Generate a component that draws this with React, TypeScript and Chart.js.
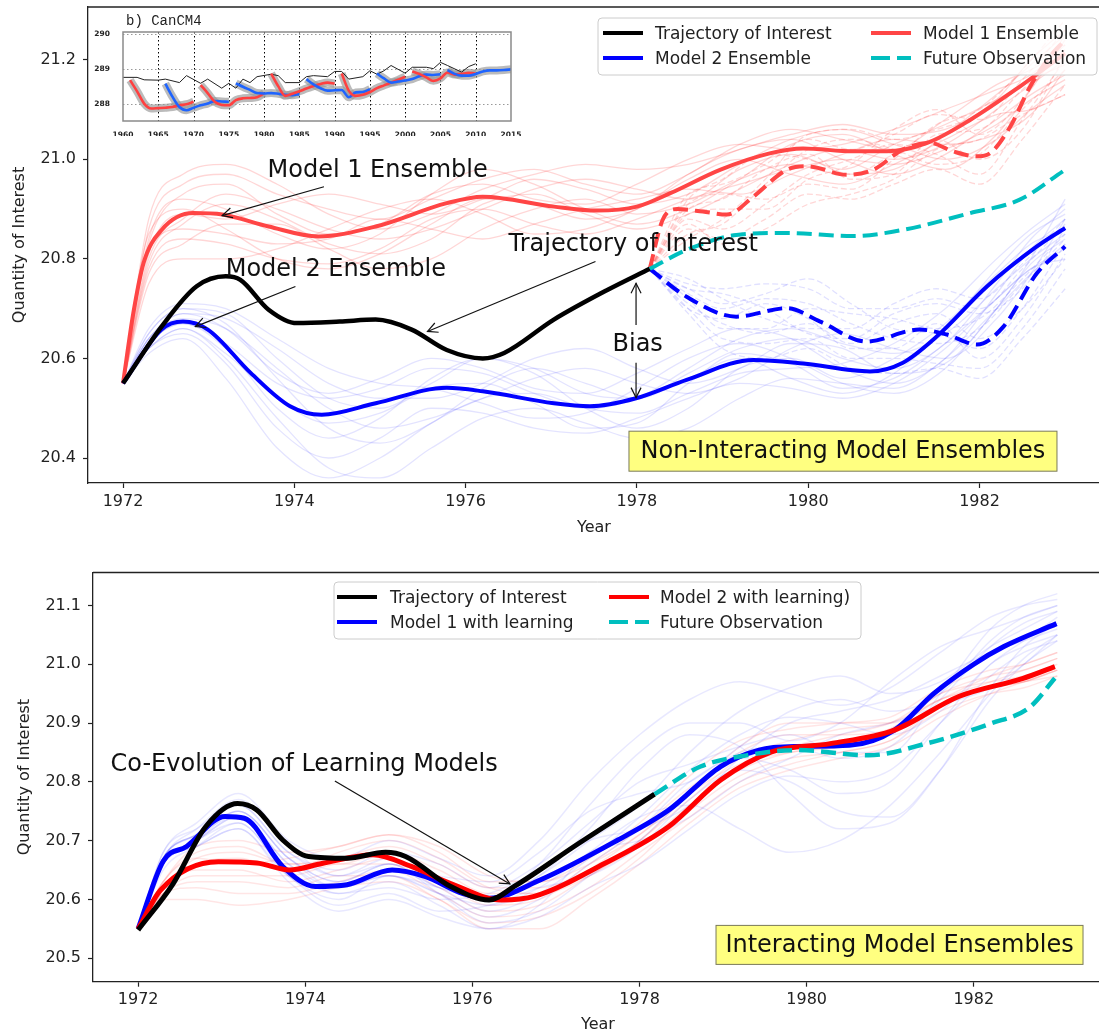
import React, { useEffect, useRef } from 'react';
import { Chart, registerables } from 'chart.js';

Chart.register(...registerables);

const FONT = '"DejaVu Sans", Verdana, sans-serif';
const MONO = '"Liberation Mono", "DejaVu Sans Mono", monospace';

// ---------------- axis ticks ----------------
const YEAR_TICKS = [1972, 1974, 1976, 1978, 1980, 1982];
const TOP_Y_TICKS = [20.4, 20.6, 20.8, 21.0, 21.2];
const BOTTOM_Y_TICKS = [20.5, 20.6, 20.7, 20.8, 20.9, 21.0, 21.1];
const INSET_X_TICKS = [1960, 1965, 1970, 1975, 1980, 1985, 1990, 1995, 2000, 2005, 2010, 2015];
const INSET_Y_TICKS = [288, 289, 290];

// ---------------- ensemble sample years ----------------
const ENS_YEARS = [1972, 1972.3, 1972.7, 1973.2, 1973.8, 1974.4, 1975, 1975.6, 1976.2, 1976.8, 1977.4, 1978, 1978.6, 1979.2, 1979.8, 1980.4, 1981, 1981.6, 1982.2, 1982.6, 1983];
const FUTURE_YEARS = [1978.15, 1978.6, 1979, 1979.5, 1980, 1980.5, 1981, 1981.5, 1982, 1982.5, 1983];

// ---------------- top panel: non-interacting ensembles ----------------
const TOP_RED_ENS = [
  [20.55, 20.86, 20.95, 20.97, 20.93, 20.90, 20.88, 20.92, 20.96, 20.98, 20.95, 20.93, 20.97, 21.03, 21.06, 21.04, 21.02, 21.08, 21.15, 21.18, 21.22],
  [20.55, 20.78, 20.84, 20.83, 20.80, 20.79, 20.82, 20.88, 20.90, 20.87, 20.85, 20.88, 20.92, 20.95, 20.98, 21.00, 20.99, 21.02, 21.07, 21.12, 21.16],
  [20.55, 20.84, 20.92, 20.90, 20.85, 20.82, 20.85, 20.93, 20.98, 20.95, 20.90, 20.87, 20.90, 20.96, 21.03, 21.05, 21.01, 20.98, 21.05, 21.14, 21.24],
  [20.55, 20.80, 20.88, 20.93, 20.90, 20.86, 20.84, 20.86, 20.90, 20.94, 20.96, 20.94, 20.92, 20.98, 21.01, 20.98, 21.03, 21.07, 21.12, 21.16, 21.19],
  [20.55, 20.75, 20.80, 20.80, 20.82, 20.86, 20.90, 20.92, 20.89, 20.85, 20.86, 20.90, 20.96, 21.00, 20.97, 20.95, 20.99, 21.04, 21.09, 21.10, 21.13],
  [20.55, 20.88, 20.97, 20.99, 20.95, 20.89, 20.86, 20.89, 20.94, 20.97, 20.99, 20.98, 20.99, 21.02, 21.05, 21.07, 21.05, 21.06, 21.12, 21.20, 21.26],
  [20.55, 20.82, 20.86, 20.85, 20.83, 20.84, 20.88, 20.86, 20.84, 20.87, 20.90, 20.92, 20.94, 20.93, 20.97, 21.01, 21.04, 21.03, 21.05, 21.09, 21.18],
  [20.55, 20.79, 20.87, 20.91, 20.88, 20.83, 20.81, 20.84, 20.91, 20.93, 20.89, 20.86, 20.89, 20.94, 20.99, 21.02, 21.00, 21.03, 21.10, 21.15, 21.20],
  [20.55, 20.85, 20.90, 20.86, 20.80, 20.78, 20.81, 20.87, 20.92, 20.91, 20.88, 20.90, 20.97, 21.02, 21.04, 21.00, 20.97, 21.01, 21.08, 21.13, 21.17],
  [20.55, 20.83, 20.93, 20.95, 20.89, 20.85, 20.87, 20.93, 20.95, 20.92, 20.91, 20.95, 21.00, 21.03, 21.02, 21.03, 21.06, 21.10, 21.14, 21.17, 21.23],
  [20.55, 20.77, 20.83, 20.87, 20.87, 20.82, 20.78, 20.80, 20.86, 20.90, 20.92, 20.89, 20.91, 20.96, 20.99, 20.97, 20.98, 21.05, 21.13, 21.19, 21.25],
  [20.55, 20.81, 20.89, 20.88, 20.91, 20.93, 20.91, 20.89, 20.92, 20.96, 20.94, 20.91, 20.93, 20.99, 21.04, 21.06, 21.03, 21.00, 21.04, 21.10, 21.15],
];
const TOP_BLUE_ENS = [
  [20.55, 20.65, 20.70, 20.69, 20.60, 20.52, 20.50, 20.55, 20.60, 20.58, 20.53, 20.52, 20.57, 20.62, 20.64, 20.60, 20.58, 20.63, 20.75, 20.84, 20.90],
  [20.55, 20.62, 20.65, 20.59, 20.46, 20.40, 20.44, 20.50, 20.49, 20.46, 20.45, 20.48, 20.52, 20.55, 20.54, 20.52, 20.55, 20.62, 20.72, 20.78, 20.82],
  [20.55, 20.64, 20.68, 20.66, 20.58, 20.50, 20.46, 20.48, 20.52, 20.56, 20.58, 20.55, 20.53, 20.56, 20.62, 20.65, 20.62, 20.60, 20.68, 20.77, 20.88],
  [20.55, 20.63, 20.67, 20.62, 20.50, 20.44, 20.48, 20.56, 20.60, 20.57, 20.50, 20.46, 20.50, 20.58, 20.60, 20.56, 20.60, 20.67, 20.77, 20.83, 20.86],
  [20.55, 20.66, 20.71, 20.70, 20.64, 20.58, 20.55, 20.54, 20.51, 20.48, 20.49, 20.54, 20.60, 20.63, 20.60, 20.55, 20.53, 20.58, 20.70, 20.79, 20.84],
  [20.55, 20.61, 20.64, 20.56, 20.42, 20.36, 20.40, 20.47, 20.52, 20.53, 20.50, 20.49, 20.53, 20.57, 20.58, 20.59, 20.63, 20.70, 20.80, 20.86, 20.91],
  [20.55, 20.64, 20.69, 20.68, 20.62, 20.55, 20.52, 20.52, 20.55, 20.60, 20.62, 20.58, 20.55, 20.58, 20.63, 20.62, 20.57, 20.59, 20.70, 20.80, 20.92],
  [20.55, 20.62, 20.66, 20.61, 20.52, 20.47, 20.49, 20.54, 20.55, 20.51, 20.46, 20.47, 20.55, 20.61, 20.59, 20.54, 20.56, 20.63, 20.72, 20.78, 20.80],
  [20.55, 20.65, 20.70, 20.67, 20.56, 20.46, 20.43, 20.47, 20.54, 20.58, 20.55, 20.52, 20.56, 20.60, 20.56, 20.53, 20.57, 20.66, 20.78, 20.85, 20.89],
  [20.55, 20.63, 20.67, 20.63, 20.55, 20.52, 20.54, 20.58, 20.57, 20.53, 20.50, 20.52, 20.58, 20.64, 20.66, 20.63, 20.61, 20.65, 20.74, 20.80, 20.85],
  [20.55, 20.62, 20.66, 20.60, 20.48, 20.38, 20.36, 20.42, 20.48, 20.50, 20.47, 20.44, 20.46, 20.52, 20.56, 20.55, 20.54, 20.60, 20.70, 20.77, 20.83],
  [20.55, 20.64, 20.69, 20.66, 20.57, 20.53, 20.56, 20.60, 20.58, 20.54, 20.53, 20.57, 20.62, 20.66, 20.64, 20.58, 20.55, 20.60, 20.73, 20.82, 20.88],
];
const TOP_RED_FUTURE_ENS = [
  [20.78, 20.93, 20.95, 20.99, 21.04, 21.02, 21.05, 21.09, 21.08, 21.16, 21.26],
  [20.78, 20.86, 20.84, 20.88, 20.93, 20.92, 20.95, 20.98, 20.95, 21.04, 21.15],
  [20.78, 20.90, 20.92, 20.98, 21.01, 20.96, 20.97, 21.05, 21.06, 21.14, 21.22],
  [20.78, 20.88, 20.86, 20.91, 20.97, 21.00, 21.03, 21.01, 20.97, 21.08, 21.20],
  [20.78, 20.91, 20.93, 20.92, 20.95, 20.94, 21.00, 21.07, 21.10, 21.18, 21.28],
  [20.78, 20.85, 20.87, 20.95, 21.02, 21.04, 21.02, 20.99, 21.01, 21.10, 21.18],
  [20.78, 20.89, 20.90, 20.90, 20.96, 20.99, 21.06, 21.10, 21.05, 21.12, 21.25],
  [20.78, 20.87, 20.83, 20.86, 20.91, 20.93, 20.96, 21.02, 21.04, 21.09, 21.13],
  [20.78, 20.92, 20.96, 21.01, 21.00, 20.97, 21.01, 21.04, 21.00, 21.06, 21.21],
  [20.78, 20.84, 20.88, 20.96, 21.05, 21.06, 21.04, 21.06, 21.09, 21.15, 21.23],
];
const TOP_BLUE_FUTURE_ENS = [
  [20.78, 20.75, 20.74, 20.75, 20.74, 20.70, 20.70, 20.72, 20.70, 20.78, 20.87],
  [20.78, 20.70, 20.64, 20.63, 20.64, 20.60, 20.60, 20.59, 20.58, 20.66, 20.78],
  [20.78, 20.73, 20.70, 20.72, 20.71, 20.67, 20.64, 20.63, 20.66, 20.75, 20.84],
  [20.78, 20.71, 20.67, 20.65, 20.67, 20.63, 20.67, 20.69, 20.64, 20.70, 20.80],
  [20.78, 20.76, 20.72, 20.68, 20.66, 20.66, 20.71, 20.74, 20.72, 20.79, 20.88],
  [20.78, 20.69, 20.62, 20.60, 20.62, 20.58, 20.57, 20.58, 20.56, 20.64, 20.74],
  [20.78, 20.74, 20.71, 20.73, 20.76, 20.71, 20.66, 20.65, 20.62, 20.70, 20.83],
  [20.78, 20.72, 20.66, 20.66, 20.70, 20.69, 20.68, 20.66, 20.68, 20.76, 20.85],
  [20.78, 20.70, 20.68, 20.71, 20.68, 20.62, 20.62, 20.67, 20.60, 20.68, 20.81],
  [20.78, 20.74, 20.73, 20.70, 20.65, 20.64, 20.69, 20.71, 20.69, 20.74, 20.86],
];

const TOP_TRAJ_YEARS = [1972, 1972.45, 1972.86, 1973.2, 1973.37, 1973.7, 1974.03, 1974.53, 1974.95, 1975.37, 1975.78, 1976.2, 1976.45, 1977.03, 1977.66, 1978.15];
const TOP_TRAJ = [20.55, 20.664, 20.745, 20.765, 20.758, 20.698, 20.671, 20.674, 20.678, 20.658, 20.617, 20.6, 20.611, 20.678, 20.738, 20.78];

const TOP_M1_YEARS = [1972, 1972.12, 1972.24, 1972.45, 1972.82, 1973.16, 1973.7, 1974.28, 1974.95, 1975.78, 1976.2, 1977.03, 1977.53, 1978.0, 1978.39, 1978.97, 1979.55, 1979.94, 1980.52, 1980.92, 1981.39, 1981.89, 1982.47, 1983.0];
const TOP_M1 = [20.55, 20.691, 20.792, 20.858, 20.892, 20.889, 20.865, 20.845, 20.865, 20.912, 20.925, 20.905, 20.897, 20.905, 20.932, 20.979, 21.012, 21.022, 21.016, 21.016, 21.033, 21.079, 21.146, 21.213];

const TOP_M1_FUT_YEARS = [1978.15, 1978.3, 1978.47, 1978.77, 1979.05, 1979.36, 1979.75, 1979.99, 1980.45, 1980.76, 1981.1, 1981.42, 1981.69, 1981.97, 1982.12, 1982.36, 1982.59, 1982.82, 1983.0];
const TOP_M1_FUT = [20.78, 20.878, 20.9, 20.895, 20.889, 20.925, 20.979, 20.986, 20.969, 20.979, 21.019, 21.033, 21.016, 21.006, 21.012, 21.066, 21.146, 21.206, 21.24];

const TOP_M2_YEARS = [1972, 1972.45, 1972.7, 1972.99, 1973.49, 1973.95, 1974.32, 1974.95, 1975.78, 1976.2, 1977.03, 1977.45, 1977.99, 1978.58, 1979.36, 1979.94, 1980.72, 1981.1, 1981.5, 1982.09, 1982.67, 1983.0];
const TOP_M2 = [20.55, 20.658, 20.674, 20.658, 20.571, 20.504, 20.487, 20.51, 20.541, 20.534, 20.51, 20.504, 20.52, 20.557, 20.597, 20.59, 20.574, 20.591, 20.644, 20.745, 20.825, 20.862];

const TOP_M2_FUT_YEARS = [1978.15, 1978.58, 1979.16, 1979.75, 1980.14, 1980.68, 1981.3, 1981.62, 1981.97, 1982.28, 1982.67, 1983.0];
const TOP_M2_FUT = [20.78, 20.724, 20.684, 20.701, 20.674, 20.634, 20.658, 20.648, 20.628, 20.664, 20.771, 20.825];

const TOP_OBS_YEARS = [1978.15, 1978.58, 1979.16, 1979.75, 1980.52, 1981.1, 1981.89, 1982.47, 1983.0];
const TOP_OBS = [20.78, 20.818, 20.848, 20.852, 20.846, 20.858, 20.892, 20.919, 20.979];

// ---------------- bottom panel: interacting ensembles ----------------
const BOT_BLUE_ENS = [
  [20.55, 20.68, 20.73, 20.78, 20.70, 20.67, 20.70, 20.67, 20.64, 20.70, 20.80, 20.88, 20.94, 20.97, 20.95, 20.93, 20.96, 21.02, 21.08, 21.10, 21.11],
  [20.55, 20.66, 20.69, 20.72, 20.63, 20.58, 20.60, 20.57, 20.55, 20.57, 20.62, 20.66, 20.72, 20.78, 20.81, 20.80, 20.82, 20.90, 20.98, 21.02, 21.04],
  [20.55, 20.67, 20.71, 20.75, 20.67, 20.63, 20.66, 20.64, 20.63, 20.68, 20.75, 20.78, 20.80, 20.86, 20.92, 20.94, 20.92, 20.95, 21.04, 21.08, 21.10],
  [20.55, 20.65, 20.69, 20.73, 20.64, 20.60, 20.64, 20.61, 20.57, 20.60, 20.66, 20.72, 20.80, 20.84, 20.82, 20.78, 20.80, 20.90, 21.00, 21.03, 21.05],
  [20.55, 20.67, 20.72, 20.77, 20.69, 20.64, 20.67, 20.63, 20.60, 20.64, 20.70, 20.76, 20.85, 20.92, 20.96, 20.98, 20.95, 20.97, 21.03, 21.06, 21.09],
  [20.55, 20.66, 20.70, 20.74, 20.65, 20.61, 20.63, 20.59, 20.55, 20.59, 20.68, 20.70, 20.74, 20.80, 20.84, 20.88, 20.90, 20.93, 20.96, 21.00, 21.05],
  [20.55, 20.68, 20.72, 20.76, 20.68, 20.65, 20.68, 20.66, 20.62, 20.66, 20.73, 20.80, 20.83, 20.86, 20.88, 20.85, 20.85, 20.95, 21.06, 21.10, 21.12],
  [20.55, 20.66, 20.70, 20.73, 20.64, 20.59, 20.61, 20.58, 20.59, 20.62, 20.64, 20.69, 20.77, 20.82, 20.80, 20.75, 20.74, 20.82, 20.94, 21.00, 21.04],
  [20.55, 20.67, 20.71, 20.76, 20.68, 20.64, 20.66, 20.62, 20.60, 20.66, 20.76, 20.85, 20.90, 20.90, 20.87, 20.90, 20.97, 21.03, 21.06, 21.08, 21.10],
  [20.55, 20.66, 20.69, 20.72, 20.64, 20.62, 20.65, 20.62, 20.58, 20.61, 20.67, 20.74, 20.82, 20.88, 20.91, 20.90, 20.88, 20.92, 21.00, 21.04, 21.08],
  [20.55, 20.67, 20.71, 20.74, 20.66, 20.61, 20.62, 20.60, 20.61, 20.65, 20.70, 20.72, 20.76, 20.84, 20.90, 20.92, 20.94, 20.98, 21.02, 21.04, 21.06],
  [20.55, 20.66, 20.70, 20.75, 20.67, 20.63, 20.66, 20.61, 20.56, 20.58, 20.64, 20.70, 20.78, 20.85, 20.86, 20.84, 20.86, 20.94, 21.03, 21.07, 21.09],
  [20.55, 20.66, 20.70, 20.74, 20.66, 20.62, 20.64, 20.61, 20.59, 20.62, 20.68, 20.74, 20.76, 20.72, 20.68, 20.70, 20.76, 20.85, 20.95, 21.01, 21.05],
  [20.55, 20.67, 20.71, 20.75, 20.67, 20.62, 20.64, 20.62, 20.60, 20.64, 20.72, 20.82, 20.88, 20.86, 20.78, 20.72, 20.73, 20.82, 20.96, 21.03, 21.07],
];
const BOT_RED_ENS = [
  [20.55, 20.63, 20.69, 20.70, 20.68, 20.69, 20.71, 20.68, 20.63, 20.63, 20.67, 20.73, 20.81, 20.87, 20.89, 20.90, 20.91, 20.96, 20.99, 21.00, 21.02],
  [20.55, 20.61, 20.63, 20.63, 20.62, 20.64, 20.64, 20.60, 20.56, 20.57, 20.61, 20.67, 20.75, 20.81, 20.84, 20.85, 20.87, 20.92, 20.95, 20.96, 20.98],
  [20.55, 20.62, 20.67, 20.68, 20.66, 20.67, 20.69, 20.66, 20.62, 20.62, 20.65, 20.70, 20.78, 20.85, 20.88, 20.88, 20.89, 20.95, 20.98, 20.99, 21.01],
  [20.55, 20.61, 20.64, 20.64, 20.64, 20.66, 20.66, 20.62, 20.58, 20.59, 20.64, 20.69, 20.76, 20.82, 20.85, 20.86, 20.88, 20.93, 20.96, 20.97, 20.99],
  [20.55, 20.63, 20.68, 20.69, 20.66, 20.66, 20.68, 20.65, 20.61, 20.61, 20.66, 20.72, 20.79, 20.84, 20.86, 20.88, 20.90, 20.95, 20.97, 20.98, 21.00],
  [20.55, 20.61, 20.62, 20.61, 20.61, 20.63, 20.65, 20.61, 20.57, 20.58, 20.62, 20.68, 20.74, 20.80, 20.83, 20.85, 20.87, 20.93, 20.96, 20.97, 20.98],
  [20.55, 20.62, 20.66, 20.67, 20.65, 20.68, 20.70, 20.67, 20.62, 20.61, 20.64, 20.70, 20.77, 20.84, 20.87, 20.89, 20.90, 20.94, 20.97, 20.99, 21.01],
  [20.55, 20.62, 20.65, 20.65, 20.63, 20.65, 20.67, 20.63, 20.59, 20.60, 20.65, 20.71, 20.78, 20.83, 20.85, 20.86, 20.89, 20.94, 20.96, 20.97, 20.99],
  [20.55, 20.60, 20.60, 20.59, 20.60, 20.62, 20.63, 20.60, 20.55, 20.55, 20.60, 20.66, 20.73, 20.79, 20.82, 20.84, 20.86, 20.91, 20.95, 20.97, 20.99],
  [20.55, 20.63, 20.67, 20.66, 20.67, 20.69, 20.71, 20.69, 20.64, 20.63, 20.66, 20.71, 20.78, 20.86, 20.90, 20.90, 20.90, 20.94, 20.98, 21.00, 21.02],
];

const BOT_TRAJ_YEARS = [1972, 1972.42, 1972.81, 1973.19, 1973.42, 1973.73, 1974.04, 1974.5, 1974.96, 1975.2, 1975.74, 1976.2, 1976.5, 1977.27, 1978.18];
const BOT_TRAJ = [20.548, 20.627, 20.724, 20.763, 20.752, 20.701, 20.673, 20.67, 20.68, 20.673, 20.622, 20.599, 20.622, 20.695, 20.779];

const BOT_M1_YEARS = [1972, 1972.3, 1972.58, 1973.04, 1973.27, 1973.73, 1974.12, 1974.5, 1975.04, 1975.43, 1975.89, 1976.2, 1976.81, 1977.74, 1978.35, 1978.97, 1979.43, 1979.89, 1980.51, 1981.05, 1981.52, 1982.0, 1982.36, 1982.99];
const BOT_M1 = [20.55, 20.665, 20.69, 20.741, 20.738, 20.656, 20.622, 20.625, 20.65, 20.639, 20.61, 20.602, 20.633, 20.701, 20.752, 20.826, 20.854, 20.86, 20.862, 20.888, 20.95, 21.0, 21.03, 21.069];

const BOT_M2_YEARS = [1972, 1972.27, 1972.96, 1973.42, 1973.81, 1974.2, 1974.81, 1975.27, 1975.74, 1976.35, 1976.74, 1977.58, 1978.35, 1978.97, 1979.58, 1980.28, 1981.05, 1981.82, 1982.59, 1982.97];
const BOT_M2 = [20.55, 20.616, 20.664, 20.662, 20.65, 20.661, 20.676, 20.656, 20.627, 20.599, 20.605, 20.661, 20.724, 20.803, 20.851, 20.865, 20.888, 20.945, 20.976, 20.996];

const BOT_OBS_YEARS = [1978.18, 1978.73, 1979.28, 1979.89, 1980.74, 1981.43, 1982.2, 1982.67, 1982.97];
const BOT_OBS = [20.779, 20.826, 20.845, 20.854, 20.845, 20.865, 20.899, 20.927, 20.976];

// ---------------- inset: CanCM4 hindcasts ----------------
const INSET_OBS_YEARS = [1960, 1962, 1963, 1965, 1966, 1968, 1969, 1971, 1972, 1974, 1975, 1976, 1977, 1978, 1979, 1981, 1982, 1983, 1985, 1986, 1987, 1989, 1990, 1991, 1992, 1994, 1995, 1996, 1997, 1998, 2000, 2001, 2003, 2004, 2005, 2006, 2008, 2009, 2010];
const INSET_OBS = [288.75, 288.75, 288.68, 288.67, 288.7, 288.6, 288.8, 288.58, 288.7, 288.44, 288.58, 288.44, 288.7, 288.6, 288.77, 288.84, 288.8, 288.6, 288.6, 288.77, 288.8, 288.77, 288.92, 288.92, 288.7, 288.77, 288.94, 288.84, 288.94, 289.09, 288.87, 289.04, 289.04, 289.0, 289.18, 289.09, 288.9, 289.06, 289.14];
const INSET_RUN_STARTS = [1961, 1966, 1971, 1976, 1981, 1986, 1991, 1996, 2001, 2006];
const INSET_RUNS = [
  [288.67, 288.35, 288.0, 287.86, 287.87, 287.88, 287.9, 287.95, 287.98, 288.05],
  [288.57, 288.2, 287.9, 287.81, 287.88, 287.95, 288.0, 288.07, 288.06, 288.05],
  [288.53, 288.3, 288.05, 287.96, 287.95, 288.1, 288.15, 288.16, 288.18, 288.3],
  [288.58, 288.48, 288.39, 288.3, 288.29, 288.3, 288.28, 288.25, 288.24, 288.27],
  [288.86, 288.5, 288.22, 288.28, 288.35, 288.43, 288.5, 288.56, 288.6, 288.57],
  [288.7, 288.55, 288.44, 288.37, 288.38, 288.39, 288.18, 288.32, 288.33, 288.41],
  [288.86, 288.37, 288.22, 288.25, 288.33, 288.44, 288.52, 288.6, 288.68, 288.77],
  [288.86, 288.72, 288.6, 288.63, 288.66, 288.7, 288.78, 288.83, 288.82, 288.84],
  [288.92, 288.85, 288.75, 288.65, 288.72, 288.89, 288.83, 288.85, 288.88, 288.86],
  [288.96, 288.85, 288.8, 288.8, 288.85, 288.92, 288.95, 288.95, 288.96, 288.98],
];

// ---------------- colours ----------------
const C_RED_TOP = '#ff4545';
const C_RED = '#ff0000';
const C_BLUE = '#0000ff';
const C_BLACK = '#000000';
const C_CYAN = '#00bfbf';
const DASH = [15, 7];

// ---------------- helpers ----------------
function line(xs: number[], ys: number[], color: string, width: number, dash: number[] = [], smooth = true) {
  return {
    data: xs.map((x, i) => ({ x, y: ys[i] })),
    borderColor: color,
    backgroundColor: color,
    borderWidth: width,
    borderDash: dash,
    borderCapStyle: 'butt',
    borderJoinStyle: 'round',
    pointRadius: 0,
    pointHoverRadius: 0,
    fill: false,
    tension: smooth ? 0.4 : 0,
    cubicInterpolationMode: smooth ? 'monotone' : 'default',
  };
}

function zeroPad(s: any) {
  s.paddingLeft = 0;
  s.paddingRight = 0;
  s.paddingTop = 0;
  s.paddingBottom = 0;
}

function drawArrow(ctx: CanvasRenderingContext2D, x1: number, y1: number, x2: number, y2: number) {
  const head = 10, half = 5;
  ctx.beginPath();
  ctx.moveTo(x1, y1);
  ctx.lineTo(x2, y2);
  ctx.stroke();
  const a = Math.atan2(y2 - y1, x2 - x1);
  const ux = Math.cos(a), uy = Math.sin(a);
  ctx.beginPath();
  ctx.moveTo(x2 - ux * head - uy * half, y2 - uy * head + ux * half);
  ctx.lineTo(x2, y2);
  ctx.lineTo(x2 - ux * head + uy * half, y2 - uy * head - ux * half);
  ctx.stroke();
}

function decorPlugin(cfg: any) {
  return {
    id: 'decor',
    afterDatasetsDraw(chart: any) {
      const { ctx, chartArea: a, scales } = chart;
      const X = (v: number) => scales.x.getPixelForValue(v);
      const Y = (v: number) => scales.y.getPixelForValue(v);
      ctx.save();
      // top spine
      ctx.strokeStyle = '#222';
      ctx.lineWidth = 1.3;
      ctx.setLineDash([]);
      ctx.beginPath();
      ctx.moveTo(a.left, a.top);
      ctx.lineTo(a.right, a.top);
      ctx.stroke();

      // annotations
      ctx.fillStyle = '#111';
      ctx.font = `24px ${FONT}`;
      ctx.textBaseline = 'alphabetic';
      ctx.textAlign = 'left';
      ctx.lineWidth = 1.2;
      ctx.strokeStyle = '#111';
      for (const n of cfg.notes) {
        ctx.fillText(n.text, X(n.x), Y(n.y));
        for (const ar of n.arrows) drawArrow(ctx, X(ar[0]), Y(ar[1]), X(ar[2]), Y(ar[3]));
      }

      // yellow boxes
      for (const b of cfg.boxes) {
        const cx = X(b.x), cy = Y(b.y);
        ctx.fillStyle = '#ffff80';
        ctx.strokeStyle = '#7a7a5a';
        ctx.lineWidth = 1;
        ctx.fillRect(cx - b.w / 2, cy - b.h / 2, b.w, b.h);
        ctx.strokeRect(cx - b.w / 2, cy - b.h / 2, b.w, b.h);
        ctx.fillStyle = '#111';
        ctx.font = `24px ${FONT}`;
        ctx.textAlign = 'center';
        ctx.textBaseline = 'middle';
        ctx.fillText(b.text, cx, cy + 1);
      }

      // legend
      const L = cfg.legend;
      const [bx0, by0, bx1, by1] = L.box;
      ctx.fillStyle = 'rgba(255,255,255,0.8)';
      ctx.strokeStyle = '#cccccc';
      ctx.lineWidth = 1;
      ctx.beginPath();
      const r = 4;
      ctx.moveTo(bx0 + r, by0);
      ctx.lineTo(bx1 - r, by0);
      ctx.quadraticCurveTo(bx1, by0, bx1, by0 + r);
      ctx.lineTo(bx1, by1 - r);
      ctx.quadraticCurveTo(bx1, by1, bx1 - r, by1);
      ctx.lineTo(bx0 + r, by1);
      ctx.quadraticCurveTo(bx0, by1, bx0, by1 - r);
      ctx.lineTo(bx0, by0 + r);
      ctx.quadraticCurveTo(bx0, by0, bx0 + r, by0);
      ctx.closePath();
      ctx.fill();
      ctx.stroke();
      ctx.textAlign = 'left';
      ctx.textBaseline = 'alphabetic';
      ctx.font = `17px ${FONT}`;
      for (const e of L.entries) {
        ctx.strokeStyle = e.color;
        ctx.lineWidth = 4;
        ctx.setLineDash(e.dash || []);
        ctx.lineCap = 'butt';
        ctx.beginPath();
        ctx.moveTo(e.sx, e.sy);
        ctx.lineTo(e.sx + e.len, e.sy);
        ctx.stroke();
        ctx.setLineDash([]);
        ctx.fillStyle = '#222';
        ctx.fillText(e.label, e.tx, e.ty);
      }
      ctx.restore();
    },
  };
}

function mainScales(o: any) {
  const tickFont = { family: FONT, size: 16 };
  return {
    x: {
      type: 'linear',
      min: o.xMin,
      max: o.xMax,
      afterBuildTicks: (s: any) => { s.ticks = YEAR_TICKS.map((v) => ({ value: v })); },
      afterFit: (s: any) => { s.height = o.xHeight; zeroPad(s); },
      ticks: { callback: (v: number) => String(v), font: tickFont, color: '#222', padding: 4, maxRotation: 0, autoSkip: false },
      grid: { display: true, drawOnChartArea: false, drawTicks: true, tickLength: 5, tickColor: '#222', tickWidth: 1.2 },
      border: { display: true, color: '#222', width: 1.3 },
      title: { display: true, text: 'Year', font: tickFont, color: '#222', padding: { top: 0, bottom: o.xTitlePad } },
    },
    y: {
      type: 'linear',
      min: o.yMin,
      max: o.yMax,
      afterBuildTicks: (s: any) => { s.ticks = o.yTicks.map((v: number) => ({ value: v })); },
      afterFit: (s: any) => { s.width = o.yWidth; zeroPad(s); },
      ticks: { callback: (v: number) => v.toFixed(1), font: tickFont, color: '#222', padding: 7, autoSkip: false },
      grid: { display: true, drawOnChartArea: false, drawTicks: true, tickLength: 5, tickColor: '#222', tickWidth: 1.2 },
      border: { display: true, color: '#222', width: 1.3 },
      title: { display: true, text: 'Quantity of Interest', font: tickFont, color: '#222', padding: { top: o.yTitlePad, bottom: 0 } },
    },
  };
}

function buildTop(canvas: HTMLCanvasElement) {
  const layers: any[] = [
    ...TOP_RED_ENS.map((ys) => line(ENS_YEARS, ys, 'rgba(255,0,0,0.16)', 1.3)),
    ...TOP_RED_FUTURE_ENS.map((ys) => line(FUTURE_YEARS, ys, 'rgba(255,0,0,0.16)', 1.3, [6, 3])),
    ...TOP_BLUE_ENS.map((ys) => line(ENS_YEARS, ys, 'rgba(0,0,255,0.11)', 1.3)),
    ...TOP_BLUE_FUTURE_ENS.map((ys) => line(FUTURE_YEARS, ys, 'rgba(0,0,255,0.12)', 1.3, [6, 3])),
    line(TOP_M1_YEARS, TOP_M1, C_RED_TOP, 4),
    line(TOP_M1_FUT_YEARS, TOP_M1_FUT, C_RED_TOP, 4, DASH),
    line(TOP_M2_YEARS, TOP_M2, C_BLUE, 4),
    line(TOP_M2_FUT_YEARS, TOP_M2_FUT, C_BLUE, 4, DASH),
    line(TOP_TRAJ_YEARS, TOP_TRAJ, C_BLACK, 4.5),
    line(TOP_OBS_YEARS, TOP_OBS, C_CYAN, 4, DASH),
  ];
  const cfg = {
    notes: [
      { text: 'Model 1 Ensemble', x: 1973.687, y: 20.964, arrows: [[1974.346, 20.945, 1973.157, 20.887]] },
      { text: 'Model 2 Ensemble', x: 1973.199, y: 20.766, arrows: [[1974.013, 20.7446, 1972.845, 20.664]] },
      { text: 'Trajectory of Interest', x: 1976.502, y: 20.8157, arrows: [[1977.516, 20.7948, 1975.555, 20.6542]] },
      { text: 'Bias', x: 1977.715, y: 20.614, arrows: [[1977.99, 20.667, 1977.99, 20.751], [1977.99, 20.5916, 1977.99, 20.5213]] },
    ],
    boxes: [{ text: 'Non-Interacting Model Ensembles', x: 1980.406, y: 20.4137, w: 428, h: 40 }],
    legend: {
      box: [598, 18, 1097, 75],
      entries: [
        { label: 'Trajectory of Interest', color: C_BLACK, sx: 603, sy: 33, len: 40, tx: 655, ty: 38.5 },
        { label: 'Model 1 Ensemble', color: C_RED_TOP, sx: 871, sy: 33, len: 40, tx: 923, ty: 38.5 },
        { label: 'Model 2 Ensemble', color: C_BLUE, sx: 603, sy: 58, len: 40, tx: 655, ty: 63.5 },
        { label: 'Future Observation', color: C_CYAN, dash: [19, 7], sx: 871, sy: 58, len: 40, tx: 923, ty: 63.5 },
      ],
    },
  };
  return new Chart(canvas, {
    type: 'line',
    data: { datasets: layers.reverse() },
    options: {
      responsive: false,
      animation: false,
      events: [],
      layout: { padding: { top: 7, right: 10, left: 0, bottom: 0 } },
      plugins: { legend: { display: false }, tooltip: { enabled: false } },
      scales: mainScales({
        xMin: 1971.591, xMax: 1983.407, yMin: 20.3498, yMax: 21.306, yTicks: TOP_Y_TICKS,
        xHeight: 62, yWidth: 88, xTitlePad: 8, yTitlePad: 10,
      }),
    } as any,
    plugins: [decorPlugin(cfg)],
  } as any);
}

function buildBottom(canvas: HTMLCanvasElement) {
  const layers: any[] = [
    ...BOT_RED_ENS.map((ys) => line(ENS_YEARS, ys, 'rgba(255,0,0,0.1)', 1.5)),
    ...BOT_BLUE_ENS.map((ys) => line(ENS_YEARS, ys, 'rgba(0,0,255,0.09)', 1.5)),
    line(BOT_M1_YEARS, BOT_M1, C_BLUE, 5),
    line(BOT_M2_YEARS, BOT_M2, C_RED, 5),
    line(BOT_TRAJ_YEARS, BOT_TRAJ, C_BLACK, 5),
    line(BOT_OBS_YEARS, BOT_OBS, C_CYAN, 4.5, DASH),
  ];
  const cfg = {
    notes: [
      { text: 'Co-Evolution of Learning Models', x: 1971.67, y: 20.8183, arrows: [[1974.354, 20.8013, 1976.449, 20.6263]] },
    ],
    boxes: [{ text: 'Interacting Model Ensembles', x: 1981.111, y: 20.5226, w: 367, h: 39 }],
    legend: {
      box: [334, 37, 861, 94],
      entries: [
        { label: 'Trajectory of Interest', color: C_BLACK, sx: 337, sy: 52, len: 40, tx: 390, ty: 57.5 },
        { label: 'Model 2 with learning)', color: C_RED, sx: 609, sy: 52, len: 40, tx: 660, ty: 57.5 },
        { label: 'Model 1 with learning', color: C_BLUE, sx: 337, sy: 77, len: 40, tx: 390, ty: 82.5 },
        { label: 'Future Observation', color: C_CYAN, dash: [19, 7], sx: 609, sy: 77, len: 40, tx: 660, ty: 82.5 },
      ],
    },
  };
  return new Chart(canvas, {
    type: 'line',
    data: { datasets: layers.reverse() },
    options: {
      responsive: false,
      animation: false,
      events: [],
      layout: { padding: { top: 27.5, right: 7, left: 0, bottom: 0 } },
      plugins: { legend: { display: false }, tooltip: { enabled: false } },
      scales: mainScales({
        xMin: 1971.46, xMax: 1983.546, yMin: 20.46, yMax: 21.156, yTicks: BOTTOM_Y_TICKS,
        xHeight: 63.3, yWidth: 93, xTitlePad: 10.4, yTitlePad: 15,
      }),
    } as any,
    plugins: [decorPlugin(cfg)],
  } as any);
}

function buildInset(canvas: HTMLCanvasElement) {
  const bands: any[] = [];
  const runs: any[] = [];
  INSET_RUNS.forEach((vals, i) => {
    const xs = vals.map((_, k) => INSET_RUN_STARTS[i] + k);
    bands.push(line(xs, vals, 'rgba(150,150,150,0.65)', 8, [], true));
    runs.push(line(xs, vals, i % 2 === 0 ? '#ff4040' : '#1e64ff', 2.6, [], true));
  });
  const layers = [...bands, line(INSET_OBS_YEARS, INSET_OBS, '#222', 1, [], false), ...runs];
  const tickFont = { family: FONT, size: 7.5, weight: 'bold' };
  const plugin = {
    id: 'insetDecor',
    beforeDraw(chart: any) {
      const { ctx, width, height } = chart;
      ctx.save();
      ctx.fillStyle = '#ffffff';
      ctx.fillRect(0, 0, width, height);
      ctx.restore();
    },
    beforeDatasetsDraw(chart: any) {
      const { ctx, chartArea: a, scales } = chart;
      ctx.save();
      ctx.lineWidth = 1;
      ctx.setLineDash([1.5, 2.5]);
      ctx.strokeStyle = '#000';
      for (const v of INSET_X_TICKS.slice(1, -1)) {
        const x = Math.round(scales.x.getPixelForValue(v)) + 0.5;
        ctx.beginPath(); ctx.moveTo(x, a.top); ctx.lineTo(x, a.bottom); ctx.stroke();
      }
      ctx.strokeStyle = '#999';
      for (const v of INSET_Y_TICKS) {
        const y = Math.round(scales.y.getPixelForValue(v)) + 0.5;
        ctx.beginPath(); ctx.moveTo(a.left, y); ctx.lineTo(a.right, y); ctx.stroke();
      }
      ctx.restore();
    },
    afterDatasetsDraw(chart: any) {
      const { ctx, chartArea: a } = chart;
      ctx.save();
      ctx.strokeStyle = '#8a8a8a';
      ctx.lineWidth = 1.5;
      ctx.strokeRect(a.left, a.top, a.right - a.left, a.bottom - a.top);
      ctx.fillStyle = '#222';
      ctx.font = `14px ${MONO}`;
      ctx.textAlign = 'left';
      ctx.textBaseline = 'alphabetic';
      ctx.fillText('b) CanCM4', 36, 16);
      ctx.restore();
    },
  };
  return new Chart(canvas, {
    type: 'line',
    data: { datasets: layers.reverse() },
    options: {
      responsive: false,
      animation: false,
      events: [],
      layout: { padding: { top: 23, right: 17, left: 0, bottom: 0 } },
      plugins: { legend: { display: false }, tooltip: { enabled: false } },
      scales: {
        x: {
          type: 'linear', min: 1960, max: 2015,
          afterBuildTicks: (s: any) => { s.ticks = INSET_X_TICKS.map((v) => ({ value: v })); },
          afterFit: (s: any) => { s.height = 15; zeroPad(s); },
          ticks: { callback: (v: number) => String(v), font: tickFont, color: '#222', padding: 2, maxRotation: 0, autoSkip: false },
          grid: { display: false },
          border: { display: false },
        },
        y: {
          type: 'linear', min: 287.5, max: 290.05,
          afterBuildTicks: (s: any) => { s.ticks = INSET_Y_TICKS.map((v) => ({ value: v })); },
          afterFit: (s: any) => { s.width = 33; zeroPad(s); },
          ticks: { callback: (v: number) => String(v), font: tickFont, color: '#222', padding: 5, autoSkip: false },
          grid: { display: false },
          border: { display: false },
        },
      },
    } as any,
    plugins: [plugin],
  } as any);
}

export default function App() {
  const topRef = useRef<HTMLCanvasElement>(null);
  const insetRef = useRef<HTMLCanvasElement>(null);
  const botRef = useRef<HTMLCanvasElement>(null);
  useEffect(() => {
    const charts = [buildTop(topRef.current!), buildInset(insetRef.current!), buildBottom(botRef.current!)];
    return () => charts.forEach((c) => c.destroy());
  }, []);
  return (
    <div style={{ position: 'absolute', left: 0, top: 0, width: 1099, height: 1034, overflow: 'hidden', background: '#fff' }}>
      <canvas ref={topRef} width={1110} height={545} style={{ position: 'absolute', left: 0, top: 0, width: 1110, height: 545 }} />
      <canvas ref={insetRef} width={438} height={127} style={{ position: 'absolute', left: 90, top: 9, width: 438, height: 127 }} />
      <canvas ref={botRef} width={1110} height={500} style={{ position: 'absolute', left: 0, top: 545, width: 1110, height: 500 }} />
    </div>
  );
}
